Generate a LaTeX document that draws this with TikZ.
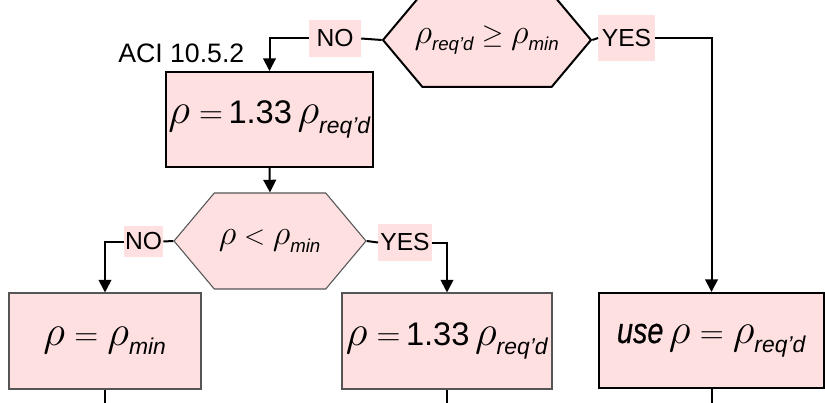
\documentclass[tikz,border=0pt]{standalone}
\usepackage{amsmath}
\usepackage{graphicx}
\usepackage{fontspec}
\setmainfont{Liberation Sans}
\newfontfamily\narrowsans[FakeStretch=0.8,FakeBold=0.4]{Liberation Sans}
\usetikzlibrary{arrows.meta,shapes.symbols}
\definecolor{boxpink}{RGB}{255,224,225}
\definecolor{edgegray}{RGB}{85,85,85}
\newcommand{\rhobig}{\text{\fontsize{24.88}{30}\selectfont\scalebox{1.29}{$\rho$}}}
\newcommand{\rhosmall}{\text{\fontsize{20.74}{25}\selectfont\scalebox{1.25}{$\rho$}}}
\newcommand{\subreq}{_{\text{\itshape req'd}}}
\newcommand{\submin}{_{\text{\itshape min}}}
\tikzset{
  flow/.style={line width=1.5pt},
  arr/.style={flow,-{Triangle[width=9.5pt,length=9.5pt]}},
  heavybox/.style={draw=black,line width=1.5pt,fill=boxpink,inner sep=0pt,font=\fontsize{24.5}{28}\selectfont},
  lightbox/.style={draw=edgegray,line width=0.8pt,fill=boxpink,inner sep=0pt,font=\fontsize{24.5}{28}\selectfont},
  hexbox/.style={signal,signal to=east and west,signal pointer angle=100,fill=boxpink,inner sep=0pt,font=\fontsize{20}{24}\selectfont},
  answer/.style={fill=boxpink,inner sep=0pt,font=\fontsize{18.5}{22}\selectfont},
}
\begin{document}
\begin{tikzpicture}[x=0.75pt,y=-0.75pt]
\clip (0,0) rectangle (825,403);

\node[hexbox,draw=black,line width=1.5pt,minimum width=156pt,minimum height=70.5pt] (q1) at (487,40)
  {\makebox[0pt]{$\rhosmall\subreq \geq \rhosmall\submin$}};
\node[answer,inner xsep=5.6pt,inner ysep=7.3pt] (no1) at (335,38.5) {NO};
\node[answer,inner xsep=2.6pt,inner ysep=10.6pt] (yes1) at (626.5,38) {YES};
\node[font=\fontsize{20}{24}\selectfont,anchor=base west,inner sep=0pt] (aci) at (118,63) {ACI 10.5.2};

\node[heavybox,minimum width=155.25pt,minimum height=71.25pt] (b1) at (269.5,119.5) {$\rhobig\;{=}\,\text{1.33}\,\rhobig\subreq$};

\node[hexbox,draw=edgegray,line width=0.8pt,minimum width=144pt,minimum height=72pt] (q2) at (270,241)
  {\makebox[0pt]{$\rhosmall < \rhosmall\submin$}};
\node[answer,inner xsep=0.8pt,inner ysep=5pt] (no2) at (143.5,241.5) {NO};
\node[answer,inner xsep=1.5pt,inner ysep=7.3pt] (yes2) at (405,242.5) {YES};

\node[lightbox,minimum width=144pt,minimum height=72pt] (bl) at (105,341) {$\rhobig = \rhobig\submin$};
\node[lightbox,minimum width=157.5pt,minimum height=72pt] (bm) at (447,341) {$\rhobig\;{=}\,\text{1.33}\,\rhobig\subreq$};
\node[heavybox,minimum width=168.75pt,minimum height=71.25pt] (br) at (711.5,340.5)
  {$\text{\narrowsans\fontsize{27}{30}\selectfont\itshape use}\,\rhobig = \rhobig\subreq$};

\coordinate (endl) at (105,410);
\coordinate (endm) at (447,410);
\coordinate (endr) at (711.5,410);

\draw[flow] (q1.west) -- (no1.east);
\draw[arr] (no1.west) -| (b1.north);
\draw[flow] (q1.east) -- (yes1.west);
\draw[arr] (yes1.east) -| (br.north);
\draw[arr] (b1.south) -- (q2.north);
\draw[flow] (q2.west) -- (no2.east);
\draw[arr] (no2.west) -| (bl.north);
\draw[flow] (q2.east) -- (yes2.west);
\draw[arr] (yes2.east) -| (bm.north);
\draw[flow] (bl.south) -- (endl);
\draw[flow] (bm.south) -- (endm);
\draw[flow] (br.south) -- (endr);
\end{tikzpicture}
\end{document}
